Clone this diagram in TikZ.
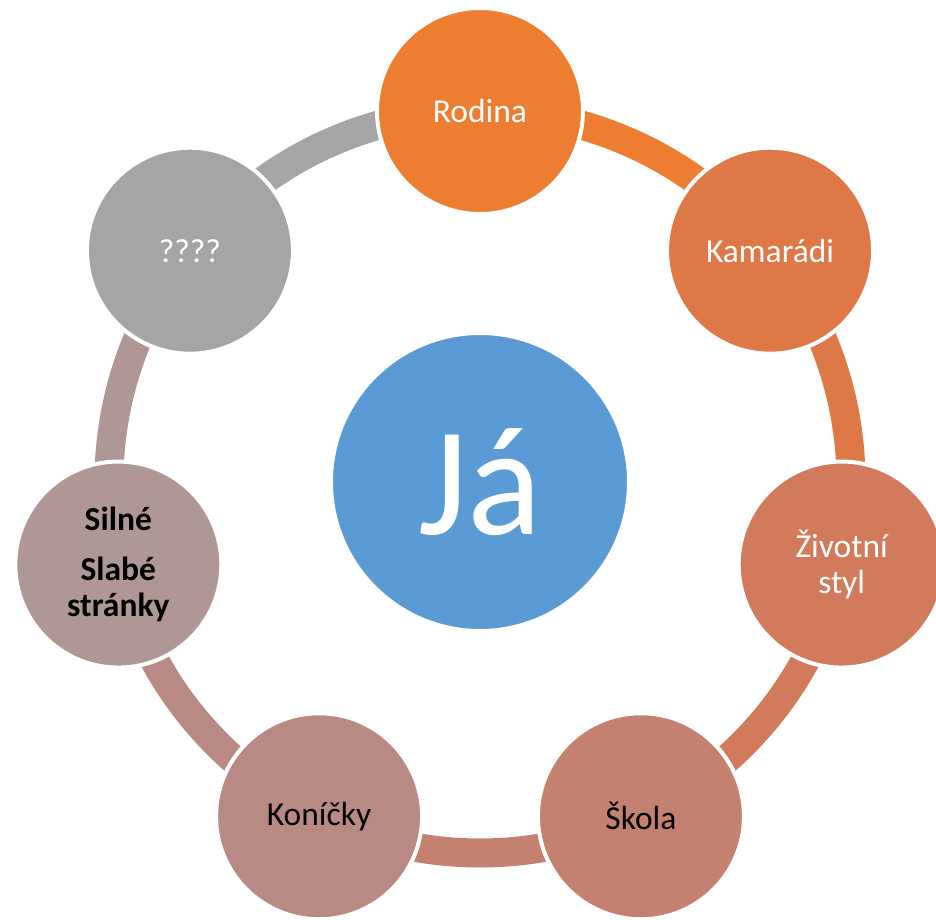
\documentclass[tikz,border=0pt]{standalone}
\usepackage{fontspec}
\setmainfont{Carlito}
\usetikzlibrary{backgrounds}
\definecolor{accentblue}{RGB}{91,155,213}
\definecolor{cyclecol1}{RGB}{237,125,49}
\definecolor{cyclecol2}{RGB}{222,121,71}
\definecolor{cyclecol3}{RGB}{209,123,92}
\definecolor{cyclecol4}{RGB}{197,129,112}
\definecolor{cyclecol5}{RGB}{185,138,131}
\definecolor{cyclecol6}{RGB}{175,151,149}
\definecolor{cyclecol7}{RGB}{165,165,165}
\tikzstyle{cyclestep}=[circle,draw=white,line width=4pt,minimum size=206pt,inner sep=0pt,text width=150pt,align=center,font=\fontsize{33.5}{36}\selectfont]
\tikzstyle{centerstep}=[circle,draw=white,line width=4pt,minimum size=298pt,inner sep=0pt,fill=accentblue,text=white,font=\fontsize{155}{160}\selectfont]
\tikzstyle{ringarc}=[line width=29pt,bend left=25.7,looseness=0.9]

\begin{document}
\begin{tikzpicture}

\useasboundingbox (-480pt,-437pt) rectangle (456pt,482pt);

\node[centerstep] (C0) at (0pt,0pt) {Já};

\node[cyclestep,fill=cyclecol1,text=white] (C1) at (90:371pt) {Rodina};
\node[cyclestep,fill=cyclecol2,text=white] (C2) at (38.57:371pt) {Kamarádi};
\node[cyclestep,fill=cyclecol3,text=white] (C3) at (-12.86:371pt) {Životní\\styl};
\node[cyclestep,fill=cyclecol4] (C4) at (-64.29:371pt) {Škola};
\node[cyclestep,fill=cyclecol5] (C5) at (-115.71:371pt) {Koníčky};
\node[cyclestep,fill=cyclecol6,font=\fontsize{33.5}{36}\selectfont\bfseries] (C6) at (-167.14:371pt) {Silné\\[14pt]Slabé\\stránky};
\node[cyclestep,fill=cyclecol7,text=white] (C7) at (141.43:371pt) {????};

% ring between the circles
\begin{scope}[on background layer]
\draw[ringarc,cyclecol1] (C1.center) to (C2.center);
\draw[ringarc,cyclecol2] (C2.center) to (C3.center);
\draw[ringarc,cyclecol3] (C3.center) to (C4.center);
\draw[ringarc,cyclecol4] (C4.center) to (C5.center);
\draw[ringarc,cyclecol5] (C5.center) to (C6.center);
\draw[ringarc,cyclecol6] (C6.center) to (C7.center);
\draw[ringarc,cyclecol7] (C7.center) to (C1.center);
\end{scope}

\end{tikzpicture}
\end{document}
